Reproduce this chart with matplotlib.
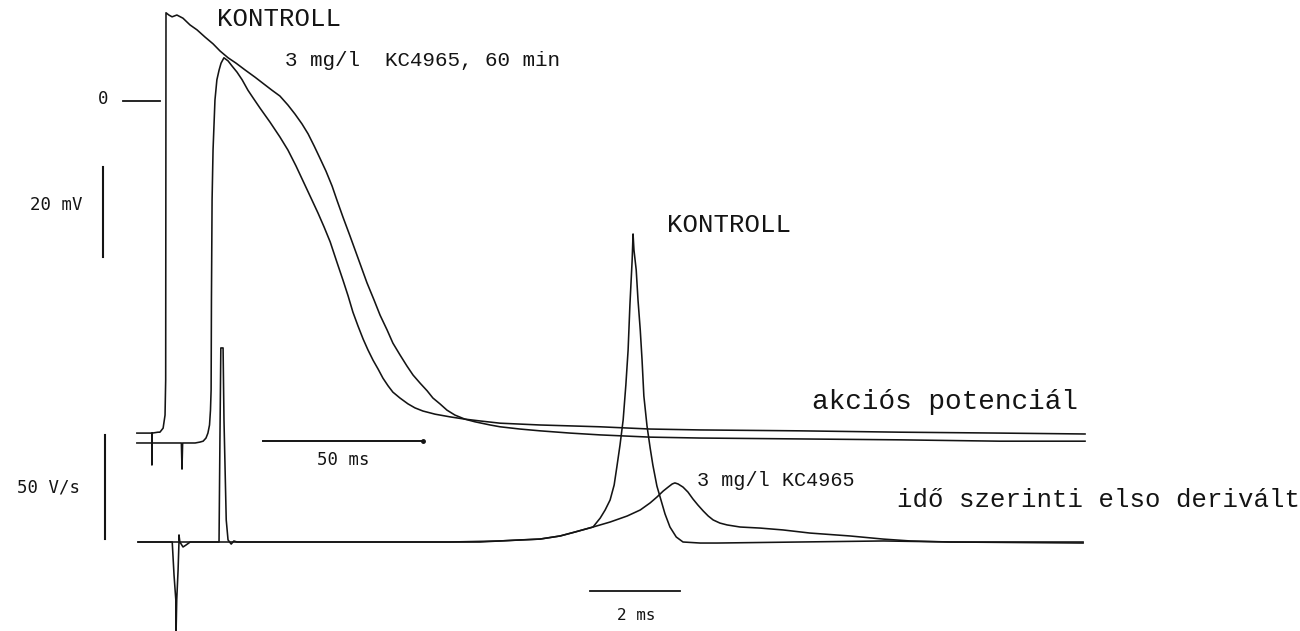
import matplotlib
matplotlib.use("Agg")
import matplotlib.pyplot as plt

# --- action potentials (slow sweep): time in ms, membrane potential in mV ---
ap_t_ctrl = [-9.1, -5.0, -4.4, -4.4, -4.3, -2.5, -1.9, -0.9, -0.3, -0.1, 0.0,
             0.9, 1.9, 3.4, 5.3, 7.5, 9.7, 12.2, 14.7, 16.9, 19.4, 21.9, 24.7, 27.8,
             30.9, 33.1, 35.6, 38.1, 40.3, 42.5, 44.4, 46.3, 48.1, 50.0, 51.9, 53.4,
             55.3, 57.5, 60.0, 62.8, 65.0, 66.9, 69.1, 70.9, 73.1, 75.3, 77.2, 79.4,
             81.6, 83.4, 85.6, 87.8, 90.3, 93.4, 96.6, 101.3, 104.4, 110.6, 116.9,
             126.3, 135.6, 151.3, 166.9, 198.1, 229.4, 260.6, 287.2]
ap_v_ctrl = [-73.8, -73.8, -73.8, -80.9, -73.8, -73.6, -73.6, -72.7, -69.8, -62.0, 19.6,
             19.1, 18.7, 19.1, 18.4, 16.9, 15.8, 14.2, 12.7, 11.1, 9.6, 8.4, 6.9, 5.3,
             3.6, 2.4, 1.1, -0.9, -2.9, -5.1, -7.3, -10.0, -12.7, -15.6, -18.9, -22.0,
             -25.8, -30.0, -34.9, -40.4, -44.2, -47.6, -50.9, -53.8, -56.4, -58.9, -60.9,
             -62.7, -64.4, -66.0, -67.3, -68.7, -69.8, -70.7, -71.3, -72.0, -72.4, -72.9,
             -73.3, -73.8, -74.2, -74.7, -74.9, -75.1, -75.3, -75.6, -75.6]

ap_t_kc = [-9.1, -5.0, 4.4, 4.8, 5.0, 5.2, 9.1, 10.6, 11.6, 12.5, 13.1, 13.6, 13.9,
           14.1, 14.2, 14.4, 14.7, 15.3, 15.9, 16.6, 17.2, 18.1, 19.4, 20.6, 22.2, 23.8,
           25.6, 27.2, 29.4, 32.5, 35.6, 38.1, 40.6, 43.1, 45.6, 47.5, 49.4, 51.3, 53.4,
           55.3, 56.9, 58.4, 60.0, 61.6, 63.1, 64.7, 66.3, 67.8, 69.4, 70.9, 73.1, 75.6,
           77.8, 80.3, 84.1, 88.8, 93.4, 98.1, 104.4, 110.6, 116.9, 126.3, 135.6, 151.3,
           166.9, 198.1, 229.4, 260.6, 287.2]
ap_v_kc = [-76.0, -76.0, -76.0, -76.0, -81.8, -76.0, -76.0, -75.8, -75.6, -74.9, -73.8,
           -72.0, -68.7, -64.2, -44.2, -22.0, -10.9, 0.2, 4.7, 6.9, 8.4, 9.6, 8.9, 7.8,
           6.4, 4.7, 2.4, 0.7, -1.6, -4.7, -8.0, -10.9, -14.4, -18.2, -22.0, -24.9,
           -28.0, -31.3, -35.8, -39.8, -43.3, -46.9, -50.0, -52.9, -55.3, -57.6, -59.6,
           -61.6, -63.3, -64.7, -66.0, -67.3, -68.2, -68.9, -69.6, -70.2, -70.7, -71.1,
           -71.6, -71.8, -72.0, -72.2, -72.4, -72.9, -73.1, -73.3, -73.6, -73.8, -74.0]

# --- first time derivative (fast sweep): time in ms, dV/dt in V/s ---
dv_t_ctrl = [0, 0.76, 0.80, 0.84, 0.84, 0.86, 0.89, 0.91, 0.91, 0.93, 1.00, 1.07, 1.16,
             1.80, 1.82, 1.84, 1.89, 1.91, 1.96, 2.00, 2.07, 2.13, 2.20, 6.93, 7.60,
             8.04, 8.49, 8.93, 9.38, 9.71, 10.11, 10.27, 10.38, 10.49, 10.58, 10.64,
             10.71, 10.78, 10.84, 10.89, 10.93, 10.98, 11.00, 11.02, 11.07, 11.11, 11.16,
             11.20, 11.24, 11.31, 11.38, 11.44, 11.53, 11.62, 11.71, 11.82, 11.96, 12.11,
             12.49, 12.87, 14.71, 16.56, 18.04, 21.00]
dv_ctrl = [0, 0, -15.9, -27.9, -49.5, -27.9, -13.5, 0, 3.4, 0, -2.4, -1.4, 0,
           0, 49.0, 93.3, 93.3, 58.7, 10.6, 1.0, -1.0, 0.5, 0, 0, 0,
           0.5, 1.0, 1.4, 2.9, 4.8, 7.2, 11.5, 15.4, 20.2, 27.4, 36.1,
           46.6, 58.7, 75.5, 92.3, 113.9, 135.6, 148.1, 140.4, 130.8, 116.3, 101.9,
           87.5, 70.2, 55.8, 45.2, 37.0, 26.9, 20.2, 13.5, 7.2, 2.4, 0,
           -0.5, -0.5, 0, 0.5, 0, 0]

dv_t_kc = [0, 6.93, 8.04, 8.93, 9.38, 9.71, 10.11, 10.49, 10.87, 11.16, 11.38, 11.53,
           11.67, 11.78, 11.87, 11.93, 12.00, 12.11, 12.22, 12.33, 12.44, 12.56, 12.67,
           12.78, 12.93, 13.09, 13.38, 13.82, 14.33, 14.93, 15.82, 16.56, 17.16, 18.04,
           21.00]
dv_kc = [0, 0, 0.5, 1.4, 2.9, 4.8, 7.2, 9.6, 12.5, 15.4, 18.8, 21.6,
         24.5, 26.4, 27.9, 28.4, 27.9, 26.4, 24.0, 20.7, 17.8, 14.9, 12.5,
         10.6, 9.1, 8.2, 7.2, 6.7, 5.8, 4.3, 2.9, 1.4, 0.5, 0,
         -0.5]

# calibration bars
mv_bar = 20       # mV
ms_bar_slow = 50  # ms
vs_bar = 50       # V/s
ms_bar_fast = 2   # ms

INK = "#141414"
MONO = ["Liberation Mono", "DejaVu Sans Mono"]
SCALE_FONT = "DejaVu Sans Mono"

fig = plt.figure(figsize=(13, 6.31), dpi=100)
fig.patch.set_facecolor("white")

# both panels share the whole canvas, only the scales differ
ax_ap = fig.add_axes([0, 0, 1, 1])
ax_dv = fig.add_axes([0, 0, 1, 1])
for ax in (ax_ap, ax_dv):
    ax.set_facecolor("none")
    ax.axis("off")

ax_ap.set_xlim(-51.875, 354.375)
ax_ap.set_ylim(-117.78, 22.44)
ax_dv.set_xlim(-3.067, 25.82)
ax_dv.set_ylim(-42.79, 260.58)

lw = 1.15
ax_ap.plot(ap_t_ctrl, ap_v_ctrl, color=INK, lw=lw, solid_joinstyle="round")
ax_ap.plot(ap_t_kc, ap_v_kc, color=INK, lw=lw, solid_joinstyle="round")
ax_dv.plot(dv_t_ctrl, dv_ctrl, color=INK, lw=lw, solid_joinstyle="round")
ax_dv.plot(dv_t_kc, dv_kc, color=INK, lw=lw, solid_joinstyle="round")

# zero line marker and calibration bars
ax_ap.plot([-13.4, -1.9], [0, 0], color=INK, lw=1.3)
ax_ap.text(-19.7, 0.4, "0", fontsize=12.5, family=SCALE_FONT, ha="center", va="center", color=INK)

ax_ap.plot([-19.7, -19.7], [-14.7, -14.7 - mv_bar], color=INK, lw=1.5)
ax_ap.text(-26.0, -23.1, "20 mV", fontsize=12.5, family=SCALE_FONT,
           ha="right", va="center", color=INK)

ax_ap.plot([30.3, 30.3 + ms_bar_slow], [-75.6, -75.6], color=INK, lw=1.4)
ax_ap.plot([30.3 + ms_bar_slow], [-75.6], marker="o", ms=2.5, color=INK)
ax_ap.text(55.3, -79.8, "50 ms", fontsize=12.5, family=SCALE_FONT,
           ha="center", va="center", color=INK)

ax_dv.plot([-0.73, -0.73], [1.4, 1.4 + vs_bar], color=INK, lw=1.5)
ax_dv.text(-1.29, 26.4, "50 V/s", fontsize=12.5, family=SCALE_FONT,
           ha="right", va="center", color=INK)

ax_dv.plot([10.04, 10.04 + ms_bar_fast], [-23.6, -23.6], color=INK, lw=1.3)
ax_dv.text(11.07, -35.1, "2 ms", fontsize=11.5, family=SCALE_FONT,
           ha="center", va="center", color=INK)

# trace labels
ax_ap.text(15.8, 18.2, "KONTROLL", fontsize=18.5, family=MONO, ha="left", va="center", color=INK)
ax_ap.text(37.2, 9.0, "3 mg/l  KC4965, 60 min", fontsize=15, family=MONO,
           ha="left", va="center", color=INK)
ax_dv.text(11.76, 152.4, "KONTROLL", fontsize=18.5, family=MONO, ha="left", va="center", color=INK)
ax_dv.text(12.42, 29.8, "3 mg/l KC4965", fontsize=14.5, family=MONO,
           ha="left", va="center", color=INK)
ax_ap.text(201.9, -66.9, "akciós potenciál", fontsize=20, family=MONO,
           ha="left", va="center", color=INK)
ax_dv.text(16.87, 20.0, "idő szerinti elso derivált", fontsize=18.5, family=MONO,
           ha="left", va="center", color=INK)

fig.savefig("out.png", dpi=100)
